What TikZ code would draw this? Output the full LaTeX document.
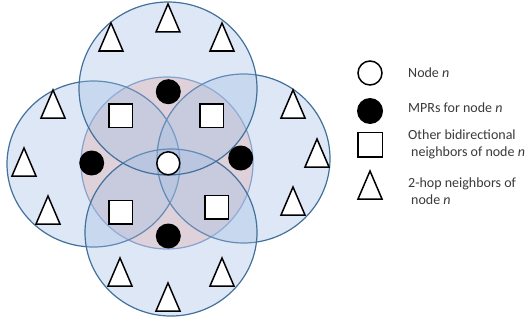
\documentclass[tikz,border=0pt]{standalone}
\usepackage{fontspec}
\setmainfont{Carlito}
\definecolor{ringline}{RGB}{65,113,156}
\definecolor{ringfill}{RGB}{161,189,229}
\definecolor{corefill}{RGB}{255,220,212}
\definecolor{coreline}{RGB}{120,150,195}
\definecolor{legtext}{RGB}{58,58,58}
\tikzset{
  ring/.style={draw=ringline, line width=1.2pt, fill=ringfill, fill opacity=0.35, draw opacity=1},
  core/.style={draw=coreline, line width=1.2pt, fill=corefill},
  selfnode/.style={circle, draw=black, line width=1.5pt, fill=white, minimum size=23pt, inner sep=0pt},
  mprnode/.style={circle, fill=black, minimum size=25pt, inner sep=0pt},
  nbrnode/.style={rectangle, draw=black, line width=1.5pt, fill=white, minimum size=23.5pt, inner sep=0pt},
  hopline/.style={draw=black, line width=1.5pt, fill=white, line join=miter},
  legtxt/.style={anchor=base west, inner sep=0pt, text=legtext, font=\fontsize{14}{17}\selectfont},
  hop/.pic={\path[hopline] (0,0) -- (12,28) -- (-12,28) -- cycle;}
}
\begin{document}
\begin{tikzpicture}[x=1pt,y=-1pt]
\useasboundingbox (0,0) rectangle (529,321);
\fill[white] (0,0) rectangle (529,321);
% range circles
\draw[core] (167,163) circle [radius=86pt];
\draw[ring] (93.5,164) ellipse [x radius=86.5pt, y radius=83pt];
\draw[ring] (243.5,158.5) ellipse [x radius=86.5pt, y radius=84.5pt];
\draw[ring] (171,232.5) ellipse [x radius=86pt, y radius=83.5pt];
\draw[ring] (168,88.5) ellipse [x radius=89pt, y radius=86.5pt];
% one-hop neighbours
\node[nbrnode] (s1) at (120.5,115.5) {};
\node[nbrnode] (s2) at (211.5,115.5) {};
\node[nbrnode] (s3) at (120.5,212) {};
\node[nbrnode] (s4) at (216.5,207) {};
% MPRs
\node[mprnode] (m1) at (168.3,91.7) {};
\node[mprnode] (m2) at (91.7,163) {};
\node[mprnode] (m3) at (240.7,158) {};
\node[mprnode] (m4) at (168.3,236) {};
% node n
\node[selfnode] (n) at (168.3,163.3) {};
% two-hop neighbours
\pic (t1) at (168,4) {hop};
\pic (t2) at (111,23) {hop};
\pic (t3) at (222,23) {hop};
\pic (t4) at (53,90) {hop};
\pic (t5) at (24,148) {hop};
\pic (t6) at (48,196) {hop};
\pic (t7) at (293,90) {hop};
\pic (t8) at (317,139) {hop};
\pic (t9) at (293,187) {hop};
\pic (t10) at (120,258) {hop};
\pic (t11) at (222,258) {hop};
\pic (t12) at (168,283) {hop};
% legend
\node[selfnode, minimum size=24pt] (l1) at (370,73) {};
\node[mprnode, minimum size=26pt] (l2) at (370,111) {};
\node[nbrnode, minimum size=24.5pt] (l3) at (370,144.5) {};
\pic (l4) at (370,171) {hop};
\node[legtxt] (lt1) at (408,77) {Node \textit{n}};
\node[legtxt] (lt2) at (408,112) {MPRs for node \textit{n}};
\node[legtxt] (lt3a) at (408,139.5) {Other bidirectional};
\node[legtxt] (lt3b) at (411,156) {neighbors of node \textit{n}};
\node[legtxt] (lt4a) at (408,187) {2-hop neighbors of};
\node[legtxt] (lt4b) at (411,204) {node \textit{n}};
\end{tikzpicture}
\end{document}
